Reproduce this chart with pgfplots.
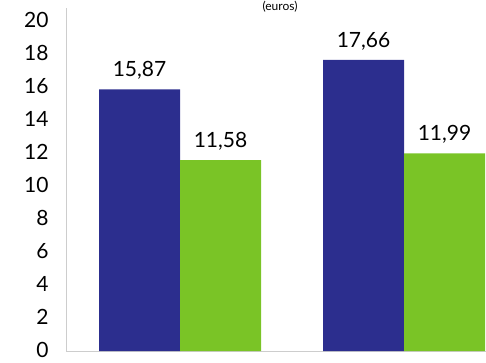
\documentclass[border=0pt]{standalone}
\usepackage{pgfplots}
\pgfplotsset{compat=1.18}
\usepackage{fontspec}
\setmainfont{Lato}
\definecolor{barblue}{RGB}{44,46,142}
\definecolor{bargreen}{RGB}{122,196,38}
\definecolor{axgray}{RGB}{205,205,205}
\begin{document}
\begin{tikzpicture}[x=1pt,y=1pt]
\useasboundingbox (0,0) rectangle (486,362);
\begin{axis}[
  at={(66pt,11pt)}, anchor=south west,
  scale only axis, width=420pt, height=343pt,
  xmin=-0.509, xmax=1.366, ymin=0, ymax=20.8,
  ybar=0pt, bar width=81pt,
  axis lines*=left,
  axis line style={axgray, line width=1pt, -},
  xtick=\empty,
  ytick={0,2,...,20},
  major tick length=0pt,
  yticklabel style={font=\fontsize{21}{21}\selectfont, anchor=east, xshift=-14pt, yshift=1pt},
  /pgf/number format/assume math mode=true,
  nodes near coords={\pgfmathprintnumber[fixed,precision=2,fixed zerofill,use comma]{\pgfplotspointmeta}},
  every node near coord/.append style={font=\fontsize{21}{21}\selectfont, text=black, yshift=6pt},
  clip=false,
]
\addplot[draw=none, fill=barblue] coordinates {(0,15.87) (1,17.66)};
\addplot[draw=none, fill=bargreen] coordinates {(0,11.58) (1,11.99)};
\end{axis}
\node[font=\fontsize{12}{12}\selectfont, anchor=north, inner sep=1pt] at (280,362) {(euros)};
\end{tikzpicture}
\end{document}
